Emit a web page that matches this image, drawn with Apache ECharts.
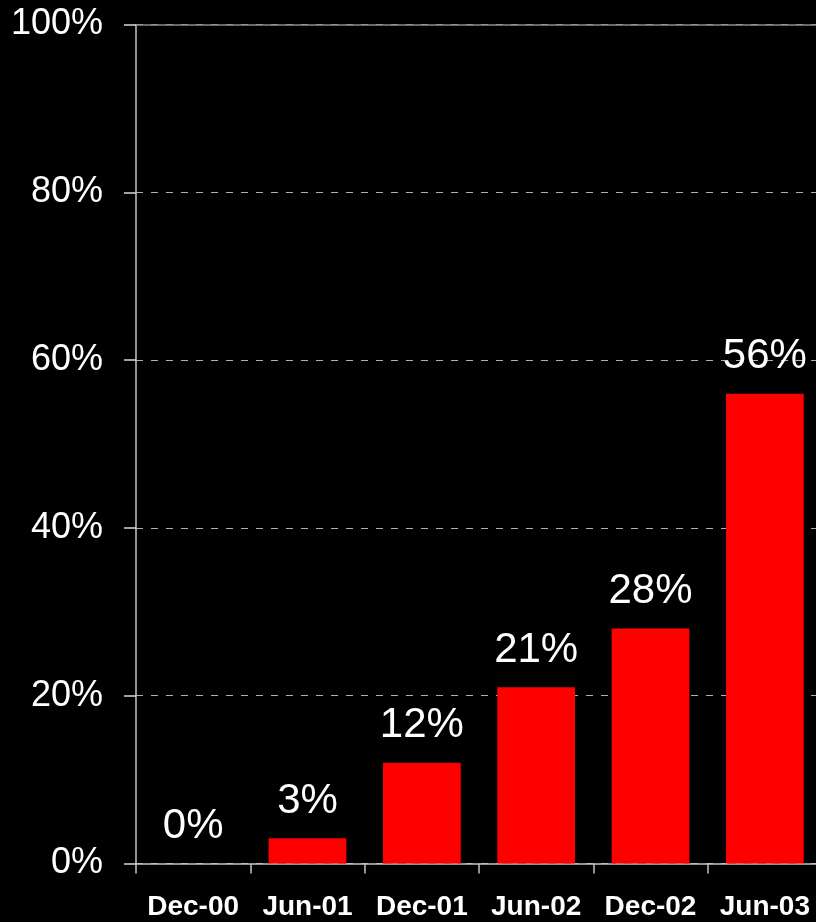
<!DOCTYPE html>
<html><head><meta charset="utf-8">
<script src="https://cdn.jsdelivr.net/npm/echarts@6/dist/echarts.min.js"></script>
<style>html,body{margin:0;padding:0;background:#000;overflow:hidden;width:816px;height:922px;}#c{width:822px;height:922px;}</style>
</head><body><div id="c"></div>
<script>
var categories = ['Dec-00','Jun-01','Dec-01','Jun-02','Dec-02','Jun-03'];
var values = [0, 3, 12, 21, 28, 56];
var yTicks = [0, 20, 40, 60, 80, 100];

var chart = echarts.init(document.getElementById('c'), null, {renderer:'canvas'});
var font = '"Liberation Sans", Arial, sans-serif';
chart.setOption({
  backgroundColor: '#000',
  animation: false,
  grid: {left: 136, top: 24.5, bottom: 58.5, right: 0, containLabel: false},
  xAxis: [{
    type: 'category', data: categories, position: 'bottom',
    axisLine: {lineStyle: {color: '#c4c4c4', width: 1.5}},
    axisTick: {show: true, length: 10, lineStyle: {color: '#c4c4c4', width: 1.5}},
    axisLabel: {color: '#fff', fontFamily: font, fontWeight: 'bold', fontSize: 28, margin: 30, interval: 0}
  }, {
    type: 'category', data: categories, position: 'top',
    axisLine: {lineStyle: {color: '#8a8a8a', width: 1.5}},
    axisTick: {show: false}, axisLabel: {show: false}
  }],
  yAxis: {
    type: 'value', min: yTicks[0], max: yTicks[yTicks.length-1], interval: 20,
    axisLine: {show: true, lineStyle: {color: '#c4c4c4', width: 1.5}},
    axisTick: {show: true, length: 12, lineStyle: {color: '#d8d8d8', width: 1.5}},
    axisLabel: {color: '#fff', fontFamily: font, fontSize: 36, margin: 33, formatter: function(v){return v + '%';}},
    splitLine: {show: true, lineStyle: {color: '#b0b0b0', width: 1, type: [7, 8]}}
  },
  series: [{
    type: 'bar', data: values, barWidth: '68%', xAxisIndex: 0,
    itemStyle: {color: '#ff0000'},
    label: {show: true, position: 'top', distance: 16, color: '#fff', fontFamily: font, fontSize: 42,
      formatter: function(p){return p.value + '%';}}
  }]
});
</script></body></html>
